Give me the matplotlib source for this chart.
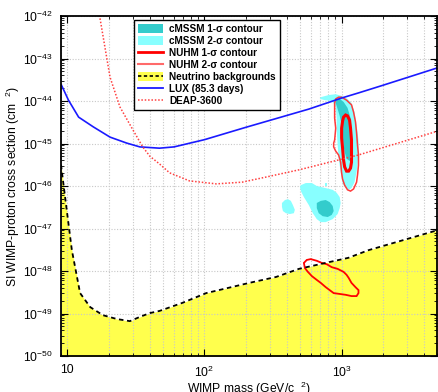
import numpy as np
import matplotlib
matplotlib.use('Agg')
import matplotlib.pyplot as plt
from matplotlib.patches import Patch
from matplotlib.lines import Line2D
from matplotlib.ticker import LogLocator, FuncFormatter, NullFormatter

plt.rcParams['font.family'] = ['Liberation Sans', 'DejaVu Sans']
plt.rcParams['mathtext.fontset'] = 'custom'
plt.rcParams['mathtext.rm'] = 'Liberation Sans'

# LUX (85.3 days) limit: mass (GeV), log10 sigma (cm^2)
lux_m = [9.05, 10.2, 12.1, 15.5, 20.5, 27.1, 33.8, 47, 60, 100, 200, 577, 1000, 1327, 2000, 5000]
lux_ls = [-43.62, -43.98, -44.38, -44.61, -44.85, -44.99, -45.08, -45.11, -45.08, -44.91,
          -44.62, -44.19, -43.93, -43.81, -43.63, -43.22]

# DEAP-3600 projected sensitivity
deap_m = [17.0, 20.5, 24.2, 30.1, 35.5, 40, 47, 55.7, 77.8, 122, 188, 281, 488, 1327, 5000]
deap_ls = [-41.9, -43.44, -44.14, -44.68, -45.08, -45.3, -45.48, -45.69, -45.88, -45.95,
           -45.91, -45.79, -45.62, -45.27, -44.71]

# neutrino background floor
nu_m = [9.0, 9.7, 10.8, 12.4, 14.7, 18.2, 23, 28.6, 33.8, 40, 47, 69, 103, 212, 333, 488,
        1120, 1570, 5000]
nu_ls = [-45.5, -46.33, -47.51, -48.52, -48.85, -49.04, -49.13, -49.18, -49.08, -48.99,
         -48.94, -48.75, -48.52, -48.28, -48.14, -47.95, -47.69, -47.51, -47.04]

# contours: log10 mass, log10 sigma
cm2_up_lm = [2.848, 2.906, 2.957, 3.000, 3.043, 3.072, 3.094, 3.109, 3.123, 3.123, 3.116, 3.109,
             3.094, 3.072, 3.051, 3.022, 3.007, 2.993, 2.978, 2.971, 2.964, 2.964, 2.957, 2.928,
             2.877, 2.841]
cm2_up_ls = [-43.91, -43.86, -43.84, -43.88, -43.95, -44.05, -44.26, -44.56, -44.92, -45.20,
             -45.51, -45.67, -45.91, -46.05, -46.09, -46.02, -45.93, -45.67, -45.34, -45.04,
             -44.68, -44.40, -44.12, -44.00, -43.98, -43.95]
cm2_lo_lm = [2.703, 2.739, 2.783, 2.819, 2.884, 2.935, 2.964, 2.986, 2.993, 2.986, 2.971, 2.935,
             2.884, 2.848, 2.819, 2.790, 2.761, 2.725, 2.703, 2.696]
cm2_lo_ls = [-45.98, -45.93, -45.93, -46.00, -46.05, -46.09, -46.16, -46.26, -46.40, -46.52,
             -46.66, -46.78, -46.85, -46.85, -46.78, -46.64, -46.45, -46.26, -46.12, -46.02]
cm2_left_lm = [2.565, 2.587, 2.609, 2.630, 2.645, 2.659, 2.652, 2.623, 2.594, 2.572, 2.565]
cm2_left_ls = [-46.40, -46.33, -46.31, -46.35, -46.45, -46.56, -46.64, -46.66, -46.64, -46.59, -46.49]
cm2_dot_lm = [2.877, 2.891, 2.891, 2.877]
cm2_dot_ls = [-45.92, -45.92, -46.0, -46.0]

cm1_up_lm = [2.957, 2.986, 3.014, 3.043, 3.065, 3.072, 3.080, 3.080, 3.072, 3.058, 3.036, 3.022,
             3.014, 3.007, 3.000, 2.986, 2.971, 2.957]
cm1_up_ls = [-43.95, -43.95, -44.02, -44.16, -44.40, -44.73, -45.04, -45.20, -45.34, -45.41,
             -45.36, -45.20, -45.04, -44.80, -44.56, -44.35, -44.19, -44.05]
cm1_lo_lm = [2.819, 2.848, 2.884, 2.913, 2.935, 2.942, 2.928, 2.899, 2.862, 2.833, 2.819]
cm1_lo_ls = [-46.40, -46.35, -46.33, -46.38, -46.47, -46.59, -46.68, -46.73, -46.71, -46.64, -46.52]

nu1_up_lm = [3.014, 3.029, 3.043, 3.058, 3.065, 3.072, 3.072, 3.072, 3.065, 3.051, 3.036, 3.022,
             3.014, 3.007, 3.000, 3.000, 3.007]
nu1_up_ls = [-44.38, -44.33, -44.35, -44.45, -44.64, -44.92, -45.20, -45.44, -45.58, -45.65,
             -45.65, -45.55, -45.39, -45.11, -44.87, -44.64, -44.47]
nu1_lo_lm = [2.725, 2.746, 2.775, 2.819, 2.855, 2.891, 2.928, 2.971, 3.014, 3.036, 3.051, 3.072,
             3.101, 3.123, 3.123, 3.109, 3.072, 3.029, 2.986, 2.942, 2.913, 2.884, 2.848, 2.819,
             2.783, 2.754, 2.732]
nu1_lo_ls = [-47.81, -47.74, -47.72, -47.76, -47.81, -47.84, -47.91, -47.95, -48.02, -48.09,
             -48.16, -48.28, -48.38, -48.45, -48.52, -48.59, -48.59, -48.56, -48.54, -48.52,
             -48.45, -48.38, -48.28, -48.21, -48.12, -48.02, -47.93]
nu2_up_lm = [2.949, 2.957, 2.978, 3.000, 3.036, 3.072, 3.087, 3.101, 3.109, 3.116, 3.123, 3.123,
             3.116, 3.109, 3.087, 3.065, 3.043, 3.022, 3.007, 3.000, 2.993, 2.978, 2.957, 2.942,
             2.942, 2.949, 2.957, 2.949, 2.949]
nu2_up_ls = [-44.05, -43.95, -43.91, -43.91, -43.98, -44.09, -44.26, -44.49, -44.75, -45.04,
             -45.27, -45.51, -45.74, -45.91, -46.07, -46.12, -46.09, -45.98, -45.84, -45.69,
             -45.44, -45.27, -45.18, -45.08, -44.99, -44.92, -44.64, -44.40, -44.21]

c_teal = '#33cccc'
c_cyan = '#88ffff'
c_yel = '#ffff4d'
c_red1 = '#ff0000'
c_red2 = '#ff3c3c'
c_deap = '#ff4040'
c_lux = '#1a1aff'


def pw(a):
    return 10 ** np.array(a)


fig = plt.figure(figsize=(4.39, 3.92), dpi=100)
ax = fig.add_axes([61 / 439, 36 / 392, 376.5 / 439, 340 / 392])
ax.set_xscale('log')
ax.set_yscale('log')
ax.set_xlim(9, 5000)
ax.set_ylim(1e-50, 1e-42)
ax.set_axisbelow('line')

# neutrino floor
ax.fill_between(nu_m, pw(nu_ls), 1e-51, color=c_yel, lw=0, zorder=1)
ax.plot(nu_m, pw(nu_ls), color='black', ls=(0, (2.5, 2)), lw=1.3, zorder=3)

# cMSSM contours
for lm, ls in [(cm2_up_lm, cm2_up_ls), (cm2_lo_lm, cm2_lo_ls), (cm2_left_lm, cm2_left_ls),
               (cm2_dot_lm, cm2_dot_ls)]:
    ax.fill(pw(lm), pw(ls), color=c_cyan, lw=0, zorder=1.6)
for lm, ls in [(cm1_up_lm, cm1_up_ls), (cm1_lo_lm, cm1_lo_ls)]:
    ax.fill(pw(lm), pw(ls), color=c_teal, lw=0, zorder=1.7)

# NUHM contours
ax.fill(pw(nu2_up_lm), pw(nu2_up_ls), fill=False, ec=c_red2, lw=1.1, zorder=2.2)
ax.fill(pw(nu1_up_lm), pw(nu1_up_ls), fill=False, ec=c_red1, lw=2.2, zorder=2.3)
ax.fill(pw(nu1_lo_lm), pw(nu1_lo_ls), fill=False, ec=c_red1, lw=1.3, zorder=2.3)

# experiments
ax.plot(lux_m, pw(lux_ls), color=c_lux, lw=1.2, zorder=2.5)
ax.plot(deap_m, pw(deap_ls), color=c_deap, lw=1.1, ls=(0, (1, 1.2)), zorder=2.5)

# axes styling
ax.xaxis.set_major_locator(LogLocator(base=10, numticks=20))
ax.xaxis.set_minor_locator(LogLocator(base=10, subs=np.arange(2, 10), numticks=50))
ax.yaxis.set_major_locator(LogLocator(base=10, numticks=20))
ax.yaxis.set_minor_locator(LogLocator(base=10, subs=np.arange(2, 10), numticks=100))
ax.xaxis.set_minor_formatter(NullFormatter())
ax.yaxis.set_minor_formatter(NullFormatter())


def xfmt(v, pos):
    e = int(round(np.log10(v)))
    if e == 1:
        return '10'
    return r'$\mathregular{10^{%d}}$' % e


def yfmt(v, pos):
    e = int(round(np.log10(v)))
    return r'$\mathregular{10^{%d}}$' % e


ax.xaxis.set_major_formatter(FuncFormatter(xfmt))
ax.yaxis.set_major_formatter(FuncFormatter(yfmt))
ax.tick_params(which='both', direction='in', top=True, right=True, labelsize=8.7, colors='black')
ax.tick_params(which='major', length=5, width=0.8)
ax.tick_params(which='minor', length=2.5, width=0.6)
ax.tick_params(axis='x', which='major', pad=6)
ax.tick_params(axis='y', which='major', pad=6)
for s in ax.spines.values():
    s.set_linewidth(1.3)

ax.grid(True, which='major', axis='both', color='#c8c8c8', ls=(0, (1, 1.5)), lw=0.8)
ax.grid(True, which='minor', axis='x', color='#c8c8c8', ls=(0, (1, 1.5)), lw=0.8)

ax.set_xlabel(r'WIMP mass (GeV/c  $^{2}$)', fontsize=8.7)
ax.set_ylabel(r'SI WIMP-proton cross section (cm  $^{2}$)', fontsize=8.7)
ax.xaxis.set_label_coords(0.5, -0.071)
ax.yaxis.set_label_coords(-0.103, 0.5)

handles = [
    Patch(facecolor=c_teal, edgecolor='none'),
    Patch(facecolor=c_cyan, edgecolor='none'),
    Line2D([], [], color=c_red1, lw=2),
    Line2D([], [], color='#ff6a6a', lw=1.5),
    (Patch(facecolor=c_yel, edgecolor='none'), Line2D([], [], color='black', ls=(0, (2, 1.5)), lw=1.2)),
    Line2D([], [], color=c_lux, lw=1.3),
    Line2D([], [], color=c_deap, lw=1.1, ls=(0, (1, 1.2))),
]
labels = ['cMSSM 1-σ contour', 'cMSSM 2-σ contour', 'NUHM 1-σ contour', 'NUHM 2-σ contour',
          'Neutrino backgrounds', 'LUX (85.3 days)', 'DEAP-3600']
leg = ax.legend(handles, labels, loc='upper left', bbox_to_anchor=(0.194, 0.988),
                borderaxespad=0, fancybox=False, framealpha=1, edgecolor='black',
                prop={'weight': 'bold', 'size': 7.2}, handlelength=2.5, handleheight=0.9,
                handletextpad=0.6, labelspacing=0.2, borderpad=0.4)
leg.get_frame().set_linewidth(1.0)
leg.set_zorder(5)

fig.savefig('out.png', dpi=100)
